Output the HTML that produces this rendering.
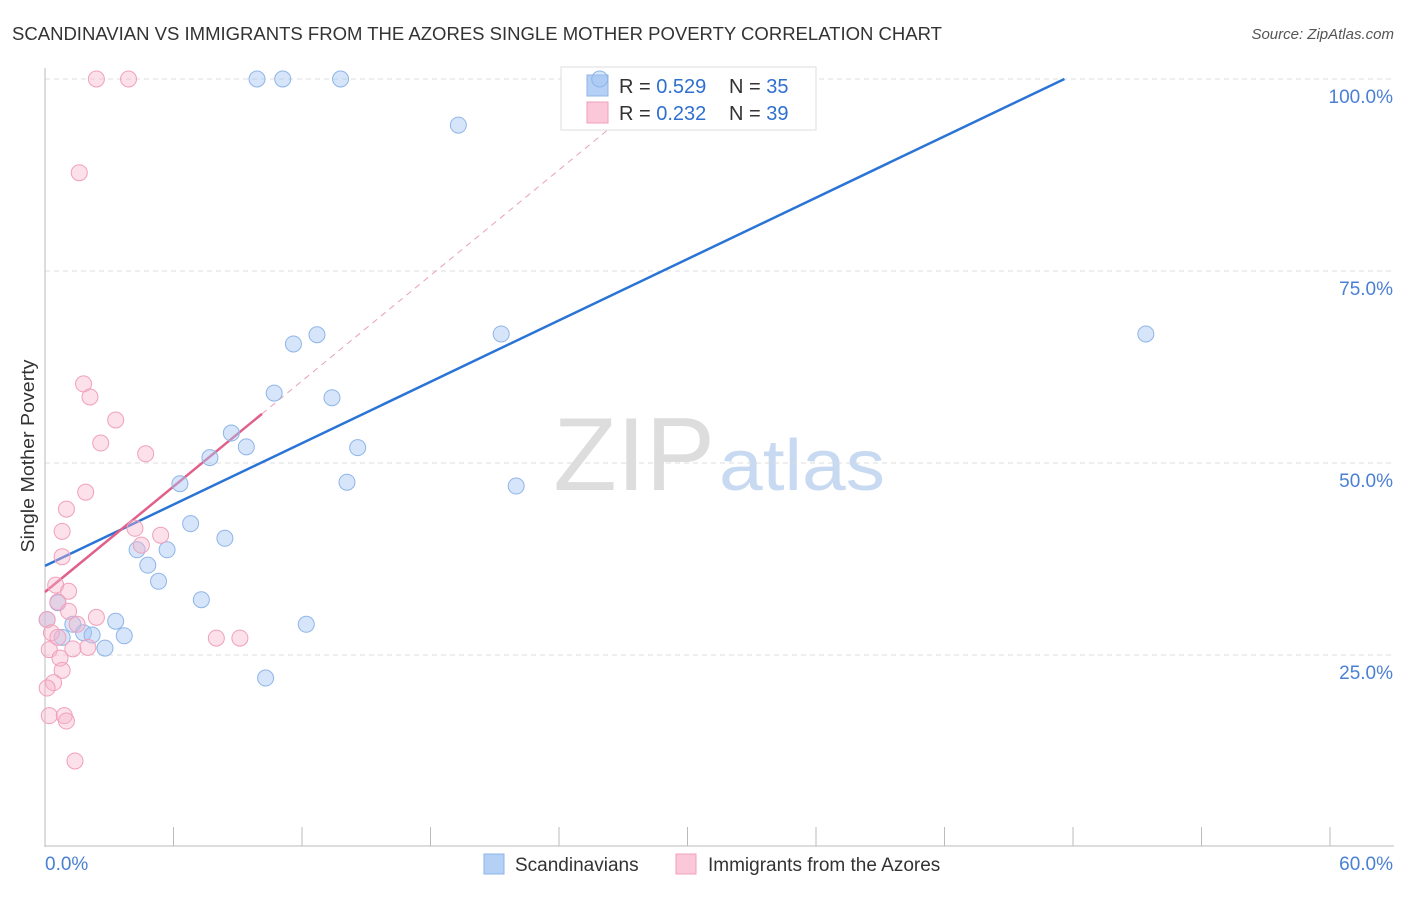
<!DOCTYPE html>
<html><head><meta charset="utf-8"><style>
body{margin:0;background:#fff;font-family:"Liberation Sans",sans-serif;}
svg text{font-family:"Liberation Sans",sans-serif;}
</style></head><body>
<svg id="chart" width="1406" height="892" xmlns="http://www.w3.org/2000/svg">
<text x="12" y="40" font-size="18" fill="#333" textLength="930" lengthAdjust="spacingAndGlyphs">SCANDINAVIAN VS IMMIGRANTS FROM THE AZORES SINGLE MOTHER POVERTY CORRELATION CHART</text>
<text x="1394" y="39" font-size="15" fill="#555" text-anchor="end" font-style="italic">Source: ZipAtlas.com</text>
<text transform="translate(34,456) rotate(-90)" font-size="18" fill="#333" text-anchor="middle" textLength="193" lengthAdjust="spacingAndGlyphs">Single Mother Poverty</text>
<text x="715" y="490" font-size="104" text-anchor="end" fill="#ddd" font-family="Liberation Serif">ZIP</text>
<text x="719" y="490" font-size="72" fill="#c8daf2" textLength="166" lengthAdjust="spacingAndGlyphs">atlas</text>
<g id="grid"></g><g id="axes"></g><g id="lines"></g><g id="pts"></g>
<g>
<rect x="561" y="67" width="255" height="63" fill="#fff" stroke="#ddd"/>
<rect x="587" y="75" width="21" height="21" fill="#b5d0f5" stroke="#8fb5e8"/>
<rect x="587" y="102" width="21" height="21" fill="#fac8d8" stroke="#f0a0bb"/>
<text x="619" y="93" font-size="20" fill="#333">R = <tspan fill="#2f6fd0">0.529</tspan></text>
<text x="729" y="93" font-size="20" fill="#333">N = <tspan fill="#2f6fd0">35</tspan></text>
<text x="619" y="120" font-size="20" fill="#333">R = <tspan fill="#2f6fd0">0.232</tspan></text>
<text x="729" y="120" font-size="20" fill="#333">N = <tspan fill="#2f6fd0">39</tspan></text>
</g>
<g id="pts2"></g>
<g>
<rect x="484" y="854" width="20" height="20" fill="#b5d0f5" stroke="#8fb5e8"/>
<text x="515" y="871" font-size="19" fill="#333">Scandinavians</text>
<rect x="676" y="854" width="20" height="20" fill="#fac8d8" stroke="#f0a0bb"/>
<text x="708" y="871" font-size="19" fill="#333">Immigrants from the Azores</text>
</g>
</svg>
<script>
const yTicks=[25,50,75,100];
const yTickLabels=["25.0%","50.0%","75.0%","100.0%"];
const xEndLabels=["0.0%","60.0%"];
const blueX=[9.9,11.1,13.8,25.9,19.3,21.3,51.4,11.6,12.7,10.7,13.4,8.7,9.4,7.7,14.6,6.3,14.1,22.0,6.8,8.4,4.3,5.7,4.8,5.3,7.3,12.2,3.3,1.3,1.8,2.2,3.7,0.8,2.8,10.3,0.1,0.6];
const blueY=[100,100,100,100,94.0,66.8,66.8,65.5,66.7,59.1,58.5,53.9,52.1,50.7,52.0,47.3,47.5,47.0,42.1,40.2,38.7,38.7,36.7,34.6,32.2,29.0,29.4,29.0,27.9,27.6,27.5,27.3,25.9,22.0,29.6,31.8];
const pinkX=[2.4,3.9,1.6,1.8,2.1,3.3,2.6,4.7,1.9,1.0,0.8,4.2,5.4,4.5,0.8,0.5,1.1,0.6,1.1,2.4,1.5,0.1,0.3,0.6,8.0,9.1,2.0,1.3,0.2,0.7,0.8,0.4,0.1,0.2,0.9,1.0,1.4];
const pinkY=[100,100,87.8,60.3,58.6,55.6,52.6,51.2,46.2,44.0,41.1,41.5,40.6,39.3,37.8,34.1,33.3,31.9,30.7,29.9,29.0,29.6,27.9,27.3,27.2,27.2,26.0,25.8,25.7,24.6,23.0,21.4,20.7,17.1,17.1,16.4,11.2];
const blueLine=[0,36.6,47.6,100];
const pinkLine=[0,33.2,10.13,56.4];
const X=v=>45+v*21.417, Y=v=>847-v*7.68;
const NS="http://www.w3.org/2000/svg";
function mk(p,t,a){const e=document.createElementNS(NS,t);for(const k in a)e.setAttribute(k,a[k]);document.getElementById(p).appendChild(e);return e;}
yTicks.forEach((t,i)=>{
 const l=mk('grid','line',{x1:45,x2:1394,y1:Y(t),y2:Y(t),stroke:'#ddd','stroke-dasharray':'5,4'});
 
 
 const tx=mk('grid','text',{x:1393,y:Y(t)+24,'font-size':19,fill:'#4a80d4','text-anchor':'end'});
 tx.textContent=yTickLabels[i];
 
 
});
let a=mk('axes','line',{x1:45,x2:45,y1:68,y2:847,stroke:'#bbb'});


a=mk('axes','line',{x1:45,x2:1394,y1:846,y2:846,stroke:'#bbb'});


for(let i=0;i<=10;i++){const t=mk('axes','line',{x1:X(i*6),x2:X(i*6),y1:827,y2:846,stroke:'#bbb'});
 
 }
let t1=mk('axes','text',{x:45,y:870,'font-size':19,fill:'#4a80d4'});t1.textContent=xEndLabels[0];


let t2=mk('axes','text',{x:1393,y:870,'font-size':19,fill:'#4a80d4','text-anchor':'end'});t2.textContent=xEndLabels[1];


function pts(xs,ys,fill,stroke,name){xs.forEach((x,i)=>{const py=Y(ys[i]),px=X(x);
 const inLegend=px>550&&px<830&&py<135;
 const c=mk(inLegend?'pts2':'pts','circle',{cx:px,cy:py,r:8,fill:fill,stroke:stroke,'stroke-width':1});
 
 });}
pts(blueX,blueY,'rgba(165,198,242,0.45)','#8fb5e8','scandinavian-point');
pts(pinkX,pinkY,'rgba(247,180,203,0.4)','#f0a0bb','azores-point');
const ps=(pinkLine[3]-pinkLine[1])/(pinkLine[2]-pinkLine[0]);
const xe=(100-pinkLine[1])/ps;
let d=mk('lines','line',{x1:X(pinkLine[2]),y1:Y(pinkLine[3]),x2:X(xe),y2:Y(100),stroke:'#e8a0b8','stroke-dasharray':'6,5','stroke-width':1});


let bl=mk('lines','line',{x1:X(blueLine[0]),y1:Y(blueLine[1]),x2:X(blueLine[2]),y2:Y(blueLine[3]),stroke:'#2a74d6','stroke-width':2.5});


let pl=mk('lines','line',{x1:X(pinkLine[0]),y1:Y(pinkLine[1]),x2:X(pinkLine[2]),y2:Y(pinkLine[3]),stroke:'#e0608a','stroke-width':2.5});


</script>
</body></html>
